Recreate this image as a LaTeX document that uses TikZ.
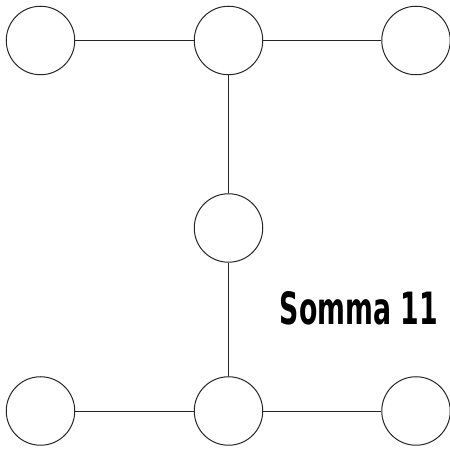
\documentclass[tikz,border=0pt]{standalone}
\usepackage{fontspec}
\newfontfamily\comic{DejaVu Sans}[BoldFont={DejaVu Sans Bold}]
\begin{document}
\begin{tikzpicture}[x=1pt,y=1pt,
  ball/.style={circle,draw=black!85,line width=1pt,minimum size=68.5pt,inner sep=0pt,fill=white},
  link/.style={draw=black!85,line width=0.9pt}]
\useasboundingbox (0,0) rectangle (450,449);
\node[ball] (a) at (40.5,408.5) {};
\node[ball] (b) at (228.5,408.5) {};
\node[ball] (c) at (416,408.5) {};
\node[ball] (m) at (228.5,221) {};
\node[ball] (d) at (40.5,38) {};
\node[ball] (e) at (228.5,38) {};
\node[ball] (f) at (416,38) {};
\draw[link] (a) -- (b);
\draw[link] (b) -- (c);
\draw[link] (b) -- (m);
\draw[link] (m) -- (e);
\draw[link] (d) -- (e);
\draw[link] (e) -- (f);
\node (t) at (359,140.5) {\resizebox{158pt}{33pt}{\comic\bfseries Somma 11}};
\end{tikzpicture}
\end{document}
